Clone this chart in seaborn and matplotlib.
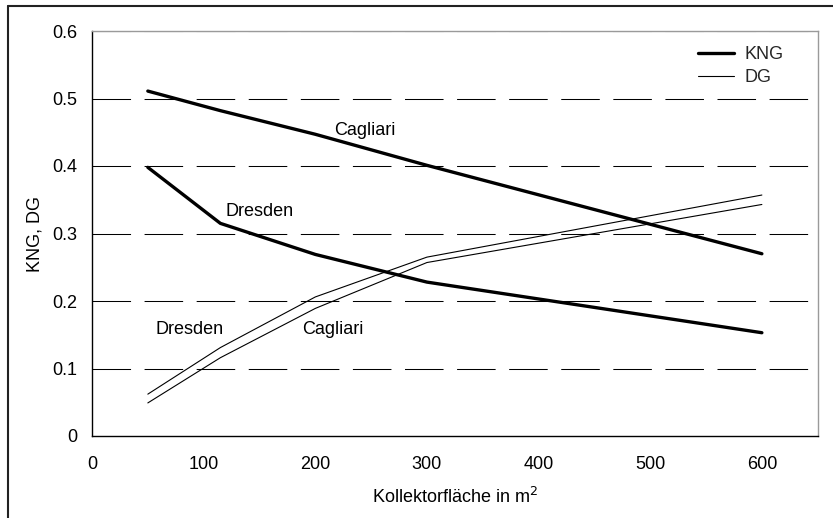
import matplotlib
matplotlib.use("Agg")
import matplotlib.pyplot as plt
from matplotlib.lines import Line2D
import seaborn as sns
import pandas as pd

# Collector area (m²) at which each configuration was evaluated
area = [50, 115, 200, 300, 600]

# KNG and DG per site
kng_cagliari = [0.511, 0.482, 0.447, 0.401, 0.270]
kng_dresden = [0.398, 0.315, 0.269, 0.228, 0.153]
dg_dresden = [0.062, 0.131, 0.206, 0.265, 0.357]
dg_cagliari = [0.049, 0.116, 0.189, 0.257, 0.343]

x_ticks = [0, 100, 200, 300, 400, 500, 600]
y_ticks = [0, 0.1, 0.2, 0.3, 0.4, 0.5, 0.6]
y_tick_labels = ["0", "0.1", "0.2", "0.3", "0.4", "0.5", "0.6"]

sns.set_theme(style="white")
plt.rcParams["font.family"] = ["Liberation Sans", "DejaVu Sans"]
plt.rcParams["font.size"] = 13

frames = []
for name, values in [("KNG Cagliari", kng_cagliari), ("KNG Dresden", kng_dresden),
                     ("DG Dresden", dg_dresden), ("DG Cagliari", dg_cagliari)]:
    frames.append(pd.DataFrame({"area": area, "value": values, "series": name}))
df = pd.concat(frames, ignore_index=True)

fig = plt.figure(figsize=(8.33, 5.18), dpi=100)
ax = fig.add_axes([92 / 833, 1 - 436 / 518, (817.7 - 92) / 833, (436 - 31) / 518])

# Dashed horizontal gridlines drawn beneath the curves
for yv in y_ticks[1:]:
    ax.axhline(yv, color="black", lw=0.75, ls=(0, (37, 13)), zorder=1)

widths = {"KNG Cagliari": 2.4, "KNG Dresden": 2.4, "DG Dresden": 0.8, "DG Cagliari": 0.8}
for name, sub in df.groupby("series", sort=False):
    sns.lineplot(data=sub, x="area", y="value", ax=ax, color="black",
                 lw=widths[name], legend=False, zorder=3)

ax.set_xlim(0, 650)
ax.set_ylim(0, 0.6)
ax.set_xticks(x_ticks)
ax.set_xticklabels([str(v) for v in x_ticks])
ax.set_yticks(y_ticks)
ax.set_yticklabels(y_tick_labels)
ax.tick_params(axis="both", which="major", direction="out", length=4.5, width=0.8,
               color="black", labelsize=13, labelcolor="black")
ax.tick_params(axis="x", pad=10)
ax.tick_params(axis="y", pad=6)

for side in ["left", "bottom"]:
    ax.spines[side].set_color("black")
    ax.spines[side].set_linewidth(1.0)
for side in ["top", "right"]:
    ax.spines[side].set_color("#9a9a9a")
    ax.spines[side].set_linewidth(1.0)

ax.set_xlabel("Kollektorfläche in m$^2$", fontsize=13, color="black", labelpad=10)
ax.set_ylabel("KNG, DG", fontsize=13, color="black", labelpad=6)

# Site labels next to the curves
ax.text(244, 0.452, "Cagliari", ha="center", va="center", fontsize=13, color="black")
ax.text(150, 0.332, "Dresden", ha="center", va="center", fontsize=13, color="black")
ax.text(87, 0.158, "Dresden", ha="center", va="center", fontsize=13, color="black")
ax.text(216, 0.158, "Cagliari", ha="center", va="center", fontsize=13, color="black")

handles = [Line2D([], [], color="black", lw=2.4), Line2D([], [], color="black", lw=0.8)]
ax.legend(handles, ["KNG", "DG"], loc="upper left", bbox_to_anchor=(0.835, 0.963),
          frameon=False, fontsize=13, handlelength=2.0, handletextpad=0.55,
          labelspacing=0.35, borderpad=0, borderaxespad=0)

# Outer frame along the left and top edges of the figure
fig.add_artist(Line2D([8 / 833, 8 / 833], [0, 1 - 6 / 518], color="#222222", lw=1.5,
                      transform=fig.transFigure))
fig.add_artist(Line2D([8 / 833, 1], [1 - 6 / 518, 1 - 6 / 518], color="#222222", lw=1.5,
                      transform=fig.transFigure))

fig.savefig("out.png", dpi=100, facecolor="white")
